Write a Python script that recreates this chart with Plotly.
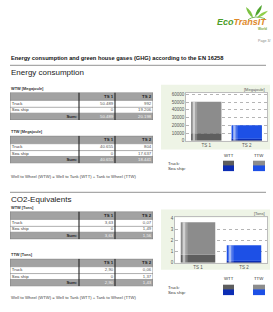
import plotly.graph_objects as go

W, H = 273, 312
FONT = "Liberation Sans, Arial, sans-serif"

# ---------------- data ----------------
TS = ["TS 1", "TS 2"]
MODES = ["Truck", "Sea ship"]
WTW_MJ_TRUCK = [50489, 992]
WTW_MJ_SHIP = [0, 19206]
TTW_MJ_TRUCK = [40655, 804]
TTW_MJ_SHIP = [0, 17637]
WTW_T_TRUCK = [3.63, 0.07]
WTW_T_SHIP = [0.0, 1.49]
TTW_T_TRUCK = [2.90, 0.06]
TTW_T_SHIP = [0.0, 1.37]
MJ_TICKS = [0, 10000, 20000, 30000, 40000, 50000, 60000]
T_TICKS = [0, 1, 2, 3, 4]
LEGEND_COLS = ["WTT", "TTW"]

# ---------------- style ----------------
C_TRUCK_WTT = "#5e5e5e"
C_TRUCK_TTW = "#8c8c8c"
C_SHIP_WTT = "#0c2db4"
C_SHIP_TTW = "#1d50e6"
HEAD_GREY = "#a2a2a2"
BG_GREEN = "#eef4e6"
COL_EDGES = [0, 69, 105, 143]
ROW_EDGES = [0, 8, 15, 21, 28]
PAD = 1.8
SWATCH_X = [0, 11, 30, 42]


def px(x):
    return x / W


def py(y):
    return 1 - y / H


def fmt_mj(v):
    return f"{v:,.0f}".replace(",", ".")


def fmt_t(v):
    return "0" if v == 0 else f"{v:.2f}".replace(".", ",")


def names(n):
    if n == 1:
        return "x", "y", "xaxis", "yaxis"
    return f"x{n}", f"y{n}", f"xaxis{n}", f"yaxis{n}"


fig = go.Figure()
layout = {}
shapes = []
annotations = []


def ann(text, x, y, size, color="#333", xanchor="left", bold=False, italic=False, family=FONT):
    if bold:
        text = f"<b>{text}</b>"
    if italic:
        text = f"<i>{text}</i>"
    annotations.append(dict(text=text, x=px(x), y=py(y), xref="paper", yref="paper",
                            xanchor=xanchor, yanchor="middle", showarrow=False,
                            font=dict(size=size, color=color, family=family), borderpad=0))


# ---------------- tables ----------------
def add_table(n, top, truck, ship, fmt):
    xr, yr, xa, ya = names(n)
    sums = [a + b for a, b in zip(truck, ship)]
    layout[xa] = dict(domain=[px(10), px(153)], range=[0, COL_EDGES[-1]], visible=False,
                      fixedrange=True, anchor=yr)
    layout[ya] = dict(domain=[py(top + ROW_EDGES[-1]), py(top)], range=[ROW_EDGES[-1], 0],
                      visible=False, fixedrange=True, anchor=xr)
    fills = [HEAD_GREY, "white", "white", HEAD_GREY]
    for r in range(4):
        shapes.append(dict(type="rect", xref=xr, yref=yr, x0=COL_EDGES[0], x1=COL_EDGES[-1],
                           y0=ROW_EDGES[r], y1=ROW_EDGES[r + 1], fillcolor=fills[r],
                           line=dict(width=0), layer="below"))
    for r in range(1, 4):
        shapes.append(dict(type="line", xref=xr, yref=yr, x0=COL_EDGES[0], x1=COL_EDGES[-1],
                           y0=ROW_EDGES[r], y1=ROW_EDGES[r], line=dict(color="#8a8a8a", width=0.7)))
    shapes.append(dict(type="rect", xref=xr, yref=yr, x0=COL_EDGES[0], x1=COL_EDGES[-1],
                       y0=ROW_EDGES[0], y1=ROW_EDGES[-1], line=dict(color="#7a7a7a", width=0.8)))
    for c in (1, 2):
        shapes.append(dict(type="line", xref=xr, yref=yr, x0=COL_EDGES[c], x1=COL_EDGES[c],
                           y0=ROW_EDGES[0], y1=ROW_EDGES[-1], line=dict(color="#222", width=1.1)))
    mid = [(ROW_EDGES[i] + ROW_EDGES[i + 1]) / 2 for i in range(4)]
    xs, ys, txt, pos, cols = [], [], [], [], []
    for c, t in enumerate(TS):
        xs.append(COL_EDGES[c + 2] - PAD); ys.append(mid[0]); txt.append(f"<b>{t}</b>")
        pos.append("middle left"); cols.append("#1a1a1a")
    for r, m in enumerate(MODES):
        xs.append(COL_EDGES[0] + PAD); ys.append(mid[r + 1]); txt.append(m)
        pos.append("middle right"); cols.append("#333")
    xs.append(COL_EDGES[1] - PAD); ys.append(mid[3]); txt.append("<b>Sum:</b>")
    pos.append("middle left"); cols.append("#1a1a1a")
    for c in range(2):
        for r, vals in enumerate([truck, ship]):
            xs.append(COL_EDGES[c + 2] - PAD); ys.append(mid[r + 1]); txt.append(fmt(vals[c]))
            pos.append("middle left"); cols.append("#555")
        xs.append(COL_EDGES[c + 2] - PAD); ys.append(mid[3]); txt.append(fmt(sums[c]))
        pos.append("middle left"); cols.append("#f4f4f4")
    fig.add_trace(go.Scatter(x=xs, y=ys, text=txt, mode="text", textposition=pos,
                             textfont=dict(size=4.3, color=cols, family=FONT),
                             xaxis=xr, yaxis=yr, hoverinfo="skip", showlegend=False,
                             cliponaxis=False))


# ---------------- charts ----------------
def add_chart(n, truck_wtw, ship_wtw, truck_ttw, ship_ttw, ticks, rng, dom_x, dom_y, unit,
              bg, unit_y):
    xr, yr, xa, ya = names(n)
    truck_wtt = [round(w - t, 6) for w, t in zip(truck_wtw, truck_ttw)]
    ship_wtt = [round(w - t, 6) for w, t in zip(ship_wtw, ship_ttw)]
    segs = [(truck_wtt, C_TRUCK_WTT), (truck_ttw, C_TRUCK_TTW),
            (ship_wtt, C_SHIP_WTT), (ship_ttw, C_SHIP_TTW)]
    base = [0, 0]
    for vals, col in segs:
        fig.add_trace(go.Bar(x=TS, y=vals, base=list(base), width=0.75, marker_color=col,
                             marker_line_width=0, xaxis=xr, yaxis=yr, hoverinfo="skip",
                             showlegend=False))
        base = [b + v for b, v in zip(base, vals)]
    fig.add_trace(go.Bar(x=TS, y=base, base=[0, 0], width=0.06, offset=-0.335,
                         marker_color="rgba(255,255,255,0.6)", marker_line_width=0,
                         xaxis=xr, yaxis=yr, hoverinfo="skip", showlegend=False))
    fig.add_trace(go.Bar(x=TS, y=base, base=[0, 0], width=0.05, offset=-0.275,
                         marker_color="rgba(255,255,255,0.2)", marker_line_width=0,
                         xaxis=xr, yaxis=yr, hoverinfo="skip", showlegend=False))
    tf = dict(size=4.5, color="#555", family=FONT)
    layout[xa] = dict(domain=dom_x, anchor=yr, type="category", range=[-0.5, 1.5],
                      showgrid=False, ticks="", tickfont=tf, showline=True,
                      linecolor="#bdbdbd", linewidth=0.7, mirror=True, fixedrange=True,
                      zeroline=False)
    layout[ya] = dict(domain=dom_y, anchor=xr, range=rng, tickvals=ticks,
                      ticktext=[str(t) for t in ticks], tickfont=tf, ticks="",
                      showgrid=True, gridcolor="#b5b5b5", gridwidth=0.6, griddash="dot",
                      showline=True, linecolor="#bdbdbd", linewidth=0.7, mirror=True,
                      zeroline=False, fixedrange=True)
    shapes.append(dict(type="rect", xref="paper", yref="paper", x0=px(bg[0]), x1=px(bg[1]),
                       y0=py(bg[3]), y1=py(bg[2]), fillcolor=BG_GREEN, line=dict(width=0),
                       layer="below"))
    shapes.append(dict(type="rect", xref=f"{xr} domain", yref=f"{yr} domain", x0=0, x1=1,
                       y0=0, y1=1, fillcolor="white", line=dict(width=0), layer="below"))
    ann(unit, dom_x[1] * W - 1, unit_y, 4, "#555", xanchor="right")


def add_legend(n, top, label_top):
    xr, yr, xa, ya = names(n)
    layout[xa] = dict(domain=[px(223), px(265)], range=[SWATCH_X[0], SWATCH_X[-1]],
                      visible=False, fixedrange=True, anchor=yr)
    layout[ya] = dict(domain=[py(top + 11), py(top)], range=[2, 0], visible=False,
                      fixedrange=True, anchor=xr)
    fig.add_trace(go.Heatmap(x=SWATCH_X, y=[0, 1, 2], z=[[0, None, 1], [2, None, 3]],
                             zmin=0, zmax=3, showscale=False, hoverinfo="skip",
                             colorscale=[[0, C_TRUCK_WTT], [1 / 3, C_TRUCK_TTW],
                                         [2 / 3, C_SHIP_WTT], [1, C_SHIP_TTW]],
                             xaxis=xr, yaxis=yr))
    ann(LEGEND_COLS[0], 228.5, label_top, 4.3, "#333", xanchor="center")
    ann(LEGEND_COLS[1], 259, label_top, 4.3, "#333", xanchor="center")
    ann(MODES[0] + ":", 167, top + 2.8, 4.3, "#333")
    ann(MODES[1] + ":", 167, top + 8.3, 4.3, "#333")


add_chart(1, WTW_MJ_TRUCK, WTW_MJ_SHIP, TTW_MJ_TRUCK, TTW_MJ_SHIP, MJ_TICKS, [0, 62500],
          [px(186), px(267)], [py(141), py(92)], "[Megajoule]", (161, 270, 84, 150), 89)
add_chart(2, WTW_T_TRUCK, WTW_T_SHIP, TTW_T_TRUCK, TTW_T_SHIP, T_TICKS, [0, 4.05],
          [px(175), px(267)], [py(265), py(219)], "[Tons]", (161, 270, 211, 272), 215)
add_table(3, 92, WTW_MJ_TRUCK, WTW_MJ_SHIP, fmt_mj)
add_table(4, 136, TTW_MJ_TRUCK, TTW_MJ_SHIP, fmt_mj)
add_table(5, 213, WTW_T_TRUCK, WTW_T_SHIP, fmt_t)
add_table(6, 261, TTW_T_TRUCK, TTW_T_SHIP, fmt_t)
add_legend(7, 161, 156)
add_legend(8, 287, 281)

# ---------------- page text ----------------
ann("Energy consumption and green house gases (GHG) according to the EN 16258", 10, 57, 5.7,
    "#111", bold=True)
shapes.append(dict(type="line", xref="paper", yref="paper", x0=px(10), x1=px(266),
                   y0=py(64.5), y1=py(64.5), line=dict(color="#a8a8a8", width=1.3)))
ann("Energy consumption", 10, 71.5, 8, "#222")
ann("WTW [Megajoule]", 10, 88, 3.9, "#333", bold=True)
ann("TTW [Megajoule]", 10, 131.5, 3.9, "#333", bold=True)
ann("Well to Wheel (WTW) = Well to Tank (WTT) + Tank to Wheel (TTW)", 10, 177, 4.2, "#444")
shapes.append(dict(type="line", xref="paper", yref="paper", x0=px(10), x1=px(266),
                   y0=py(193.5), y1=py(193.5), line=dict(color="#a8a8a8", width=1.3)))
ann("CO2-Equivalents", 10, 200.5, 8, "#222")
ann("WTW [Tons]", 10, 208.5, 3.9, "#333", bold=True)
ann("TTW [Tons]", 10, 256.5, 3.9, "#333", bold=True)
ann("Well to Wheel (WTW) = Well to Tank (WTT) + Tank to Wheel (TTW)", 10, 300, 4.2, "#444")

# ---------------- logo ----------------
annotations.append(dict(text="<b><i><span style='color:#4d9e2a'>Eco</span>"
                             "<span style='color:#e0892a'>TransIT</span></i></b>",
                        x=px(268), y=py(20.5), xref="paper", yref="paper", xanchor="right",
                        yanchor="middle", showarrow=False,
                        font=dict(size=9, family=FONT), borderpad=0))
ann("World", 268, 27.5, 3.2, "#7aaa3a", xanchor="right", bold=True)
ann("Page 3/", 271, 40, 3.6, "#888", xanchor="right")


def leaf(bx, by, tx, ty, w, color):
    mx, my = (bx + tx) / 2, (by + ty) / 2
    dx, dy = tx - bx, ty - by
    L = (dx * dx + dy * dy) ** 0.5
    nx, ny = -dy / L * w, dx / L * w
    p1 = (mx + nx, my + ny)
    p2 = (mx - nx, my - ny)
    path = (f"M {px(bx)},{py(by)} Q {px(p1[0])},{py(p1[1])} {px(tx)},{py(ty)} "
            f"Q {px(p2[0])},{py(p2[1])} {px(bx)},{py(by)} Z")
    shapes.append(dict(type="path", xref="paper", yref="paper", path=path, fillcolor=color,
                       line=dict(width=0)))


leaf(253, 16, 246, 5, 3.0, "#7cc242")
leaf(255, 15, 262, 3, 3.0, "#4fa52e")
leaf(257, 16, 268, 9, 2.6, "#8fcf4a")
shapes.append(dict(type="path", xref="paper", yref="paper",
                   path=f"M {px(248)},{py(18)} Q {px(255)},{py(13)} {px(265)},{py(17)}",
                   line=dict(color="#5aa532", width=0.8)))

fig.update_layout(width=W, height=H, margin=dict(l=0, r=0, t=0, b=0),
                  paper_bgcolor="white", plot_bgcolor="white", barmode="overlay",
                  showlegend=False, shapes=shapes, annotations=annotations,
                  font=dict(family=FONT), **layout)

fig.write_html("out.html", config={"displayModeBar": False},
               post_script="document.body.style.margin='0px';"
                           "document.body.style.overflow='hidden';")
